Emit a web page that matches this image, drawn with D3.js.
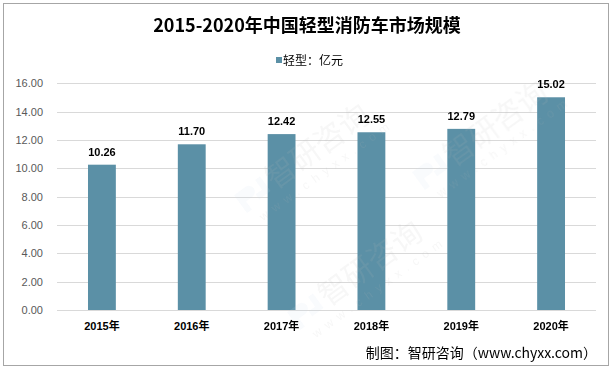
<!DOCTYPE html>
<html>
<head>
<meta charset="utf-8">
<script src="https://cdn.jsdelivr.net/npm/d3@7"></script>
<style>
body { margin: 0; background: #fff; }
svg { display: block; }
.cjk { font-family: "Noto Sans CJK SC", sans-serif; }
.lat { font-family: "Liberation Sans", "Noto Sans CJK SC", sans-serif; }
</style>
</head>
<body>
<div id="chart"></div>
<script>
var years = ["2015年", "2016年", "2017年", "2018年", "2019年", "2020年"];
var values = [10.26, 11.70, 12.42, 12.55, 12.79, 15.02];
var yTicks = [0, 2, 4, 6, 8, 10, 12, 14, 16];
var seriesName = "轻型：亿元";
var title = "2015-2020年中国轻型消防车市场规模";
var source = "制图：智研咨询（www.chyxx.com）";

var W = 612, H = 369;
var barColor = "#5b90a6";

var svg = d3.select("#chart").append("svg")
	.attr("width", W)
	.attr("height", H);

svg.append("rect")
	.attr("x", 3.5).attr("y", 3.5)
	.attr("width", 605).attr("height", 362)
	.attr("fill", "#fff")
	.attr("stroke", "#a6a6a6")
	.attr("stroke-width", 1);

var x = d3.scaleBand()
	.domain(years)
	.range([57, 596])
	.paddingInner(0.69)
	.paddingOuter(0.345);

var y = d3.scaleLinear()
	.domain([0, 16])
	.range([310, 83.4]);

// gridlines
svg.append("g")
	.selectAll("line")
	.data(yTicks)
	.join("line")
	.attr("x1", 57).attr("x2", 596)
	.attr("y1", function(d){ return Math.round(y(d)) + 0.5; })
	.attr("y2", function(d){ return Math.round(y(d)) + 0.5; })
	.attr("stroke", "#d9d9d9")
	.attr("stroke-width", 1);

// y axis labels
var yAxis = d3.axisLeft(y).tickValues(yTicks).tickSize(0).tickPadding(0)
	.tickFormat(function(d){ return d3.format(".2f")(d); });
var yg = svg.append("g").attr("transform", "translate(43,0)").call(yAxis);
yg.select(".domain").remove();
yg.selectAll("text")
	.attr("class", "lat")
	.attr("font-size", "11px")
	.attr("fill", "#595959");

// bars
svg.append("g")
	.selectAll("rect")
	.data(values)
	.join("rect")
	.attr("x", function(d, i){ return x(years[i]); })
	.attr("width", x.bandwidth())
	.attr("y", function(d){ return y(d); })
	.attr("height", function(d){ return y(0) - y(d); })
	.attr("fill", barColor);

// watermarks (only the ones that sit inside the frame)
var marks = [[247, 213], [300, 330], [425, 190]];
var wm = svg.append("g").attr("opacity", 0.12).attr("pointer-events", "none");
marks.forEach(function(p){
	var g = wm.append("g").attr("transform", "translate(" + p[0] + "," + p[1] + ") rotate(-36)");
	g.append("path")
		.attr("d", "M0,-22 h14 a6,6 0 0 1 0,12 h-8 v10 h-6 z M18,-10 h8 v-12 h6 v18 h-14 z")
		.attr("fill", "#c9d9ee");
	g.append("text")
		.attr("class", "cjk")
		.attr("x", 36).attr("y", -2)
		.attr("font-size", "30px")
		.attr("fill", "#bbb")
		.text("智研咨询");
	g.append("text")
		.attr("class", "lat")
		.attr("x", 8).attr("y", 16)
		.attr("font-size", "12px")
		.attr("letter-spacing", "6px")
		.attr("fill", "#bbb")
		.text("www.chyxx.com");
});

// value labels
svg.append("g")
	.selectAll("text")
	.data(values)
	.join("text")
	.attr("class", "lat")
	.attr("x", function(d, i){ return x(years[i]) + x.bandwidth() / 2; })
	.attr("y", function(d){ return y(d) - 9; })
	.attr("text-anchor", "middle")
	.attr("font-size", "11px")
	.attr("font-weight", "bold")
	.attr("fill", "#000")
	.text(function(d){ return d3.format(".2f")(d); });

// x axis
var xAxis = d3.axisBottom(x).tickSize(0).tickPadding(0);
var xg = svg.append("g").attr("transform", "translate(0,322)").call(xAxis);
xg.select(".domain").remove();
xg.selectAll("text")
	.attr("class", "lat")
	.attr("font-size", "11px")
	.attr("font-weight", "bold")
	.attr("fill", "#000");

// title
svg.append("text")
	.attr("class", "cjk")
	.attr("x", 307).attr("y", 32)
	.attr("text-anchor", "middle")
	.attr("font-size", "18px")
	.attr("font-weight", "bold")
	.attr("fill", "#000")
	.text(title);

// legend
svg.append("rect")
	.attr("x", 276).attr("y", 57)
	.attr("width", 6).attr("height", 6)
	.attr("fill", barColor);
svg.append("text")
	.attr("class", "cjk")
	.attr("x", 283).attr("y", 64.5)
	.attr("font-size", "12px")
	.attr("fill", "#000")
	.text(seriesName);

// source
svg.append("text")
	.attr("class", "cjk")
	.attr("x", 597).attr("y", 358)
	.attr("text-anchor", "end")
	.attr("font-size", "14px")
	.attr("fill", "#000")
	.text(source);
</script>
</body>
</html>
